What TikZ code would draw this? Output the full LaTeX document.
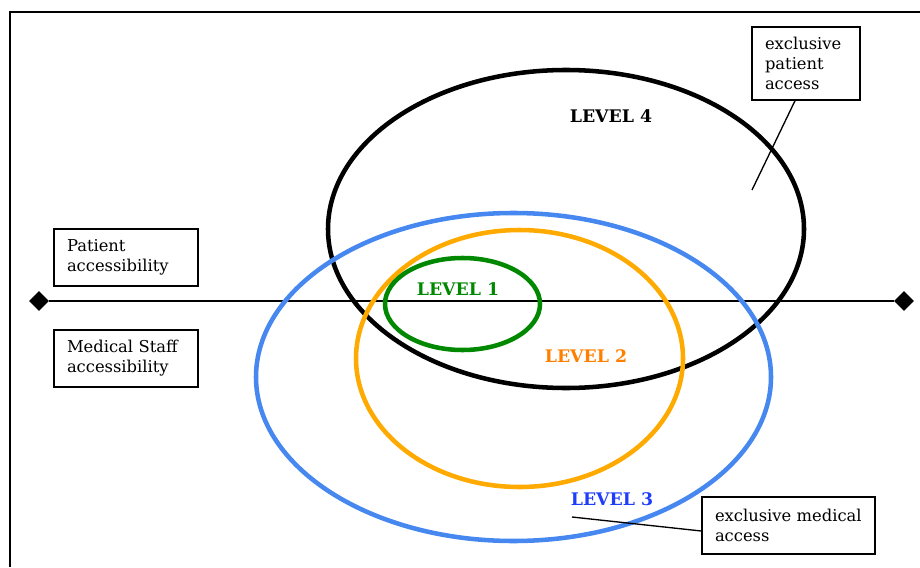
\documentclass[tikz,border=0pt]{standalone}
\usepackage{fontspec}
\setmainfont{DejaVu Serif}
\definecolor{lvlgreen}{RGB}{0,136,0}
\definecolor{lvlorange}{RGB}{255,170,0}
\definecolor{lvlorangetext}{RGB}{255,128,0}
\definecolor{lvlblue}{RGB}{70,136,240}
\definecolor{lvlbluetext}{RGB}{30,60,250}
\tikzset{
  infobox/.style={draw, line width=1.1pt, align=left, inner xsep=9.75pt,
    font=\fontsize{12.25}{15}\selectfont},
  lvllabel/.style={font=\bfseries\fontsize{13}{15}\selectfont},
  ring/.style={line width=3.4pt},
  endmark/.style={fill=black, diamond, inner sep=0pt, minimum size=15pt}
}
\usetikzlibrary{shapes.geometric}
\begin{document}
\begin{tikzpicture}[x=0.75pt,y=-0.75pt]
        \useasboundingbox (0,0) rectangle (920,567);
        % frame
        \draw[line width=1.5pt](10,567)--(10,12)--(920,12);
        % axis
        \node[endmark] (axl) at(39,301) {};
        \node[endmark] (axr) at(904,301) {};
        \draw[line width=1.1pt](axl)--(axr);
        % levels
        \draw[ring] (566,229) ellipse[x radius=238, y radius=159];
        \draw[ring, lvlblue] (513.5,377) ellipse[x radius=257.5, y radius=164];
        \draw[ring, lvlorange] (519.5,358.5) ellipse[x radius=163.5, y radius=128.5];
        \draw[ring, lvlgreen] (462.5,304) ellipse[x radius=77.5, y radius=46];
        \node[lvllabel] (lv4) at(611,116) {LEVEL 4};
        \node[lvllabel, lvlgreen] (lv1) at(458,289) {LEVEL 1};
        \node[lvllabel, lvlorangetext] (lv2) at(586,356) {LEVEL 2};
        \node[lvllabel, lvlbluetext] (lv3) at(612,499) {LEVEL 3};
        % boxes
        \node[infobox, text width=88.5pt, minimum height=42.75pt] (pat) at(126,257.5) {Patient\\accessibility};
        \node[infobox, text width=88.5pt, minimum height=42.75pt] (med) at(126,358.5) {Medical Staff\\accessibility};
        \node[infobox, text width=61.5pt, minimum height=54.75pt] (expat) at(806,63.5) {exclusive\\patient\\access};
        \node[infobox, text width=110.25pt, minimum height=42.75pt] (exmed) at(788.5,525.5) {exclusive medical\\access};
        % pointers
        \coordinate (ptp) at(752,190);
        \coordinate (ptm) at(572,517);
        \draw[line width=1pt](expat.south)++(-11,0)--(ptp);
        \draw[line width=1pt](exmed.west)++(0,5.5)--(ptm);
      \end{tikzpicture}
\end{document}
